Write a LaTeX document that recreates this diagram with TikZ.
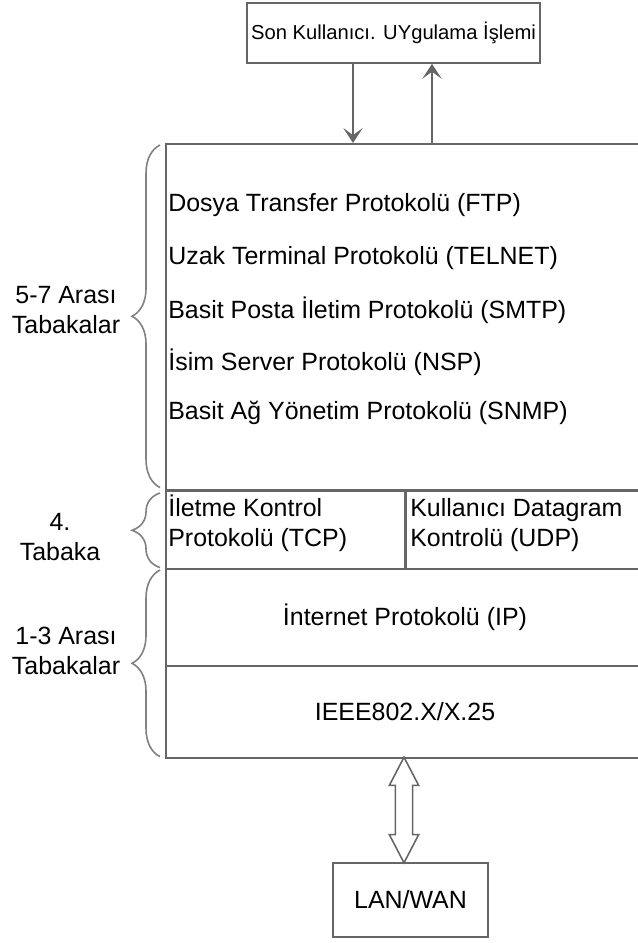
\documentclass[tikz,border=0pt]{standalone}
\usepackage{fontspec}
\setmainfont{Liberation Sans}
\usetikzlibrary{arrows.meta}
\usetikzlibrary{calc}
\usetikzlibrary{shapes.arrows}
\usetikzlibrary{decorations.pathreplacing}
\tikzset{layer/.style={draw=black!60, line width=1.1pt, inner sep=0pt, anchor=north west}}
\tikzset{txt/.style={inner sep=0pt, font=\fontsize{14.2}{17}\selectfont}}
\tikzset{side/.style={txt, align=center}}
\tikzset{brc/.style={draw=black!50, line width=0.9pt, decorate,
      decoration={brace, amplitude=15.9pt}}}
\tikzset{flow/.style={draw=black!60, line width=1.1pt,
      -{Stealth[length=8.5pt, width=11pt, inset=4pt]}}}

\begin{document}
\begin{tikzpicture}[x=0.02cm, y=-0.02cm]
		\useasboundingbox (0,0) rectangle (638,943);
		% user process on top
		\node[draw=black!60, line width=1.1pt, minimum width=167.2pt, minimum height=34pt,
			inner sep=0pt, font=\fontsize{11.5}{14}\selectfont] (app) at (393.5,33) {Son Kullanıcı. UYgulama İşlemi};
		% layers
		\node[layer, minimum width=272.1pt, minimum height=196.7pt] (apl) at (165,143) {};
		\node[layer, minimum width=136.1pt, minimum height=44.2pt] (tcp) at (165,490) {};
		\node[layer, minimum width=136.1pt, minimum height=44.2pt] (udp) at (405,490) {};
		\node[layer, minimum width=272.1pt, minimum height=55pt] (ip) at (165,568) {};
		\node[layer, minimum width=272.1pt, minimum height=52.2pt] (ieee) at (165,665) {};
		\node[draw=black!60, line width=1.1pt, minimum width=87.9pt, minimum height=42pt,
			txt] (lan) at (410.5,900) {LAN/WAN};
		% texts
		\node[txt, anchor=west] (ftp) at (168,205) {Dosya Transfer Protokolü (FTP)};
		\node[txt, anchor=west] (telnet) at (168,258) {Uzak Terminal Protokolü (TELNET)};
		\node[txt, anchor=west] (smtp) at (168,310) {Basit Posta İletim Protokolü (SMTP)};
		\node[txt, anchor=west] (nsp) at (168,362) {İsim Server Protokolü (NSP)};
		\node[txt, anchor=west] (snmp) at (168,413) {Basit Ağ Yönetim Protokolü (SNMP)};
		\node[txt, anchor=west, align=left] (tcptxt) at (168,523) {İletme Kontrol\\Protokolü (TCP)};
		\node[txt, anchor=west, align=left] (udptxt) at (410,525) {Kullanıcı Datagram\\Kontrolü (UDP)};
		\node[txt] (iptxt) at (ip.center) {İnternet Protokolü (IP)};
		\node[txt] (ieeetxt) at (ieee.center) {IEEE802.X/X.25};
		% side labels
		\node[side] (l57) at (66,310) {5-7 Arası\\Tabakalar};
		\node[side] (l4) at (60,537) {4.\\Tabaka};
		\node[side] (l13) at (66,651) {1-3 Arası\\Tabakalar};
		\draw[brc] ($(apl.south west)+(-5,-3)$) -- ($(apl.north west)+(-5,2)$);
		\draw[brc] ($(tcp.south west)+(-5,-2)$) -- ($(tcp.north west)+(-5,3)$);
		\draw[brc] ($(ieee.south west)+(-5,-2)$) -- ($(ip.north west)+(-5,2)$);
		% arrows
		\coordinate (dn) at (353,0);
		\coordinate (up) at (432,0);
		\draw[flow] (app.south -| dn) -- (apl.north -| dn);
		\draw[flow] (apl.north -| up) -- (app.south -| up);
		\node[draw=black!60, line width=0.9pt, double arrow, shape border rotate=90,
			minimum height=60.1pt, minimum width=15.9pt, inner sep=4.5pt,
			double arrow head extend=3.4pt, double arrow tip angle=55] (io) at (404,810) {};
		\end{tikzpicture}
\end{document}
